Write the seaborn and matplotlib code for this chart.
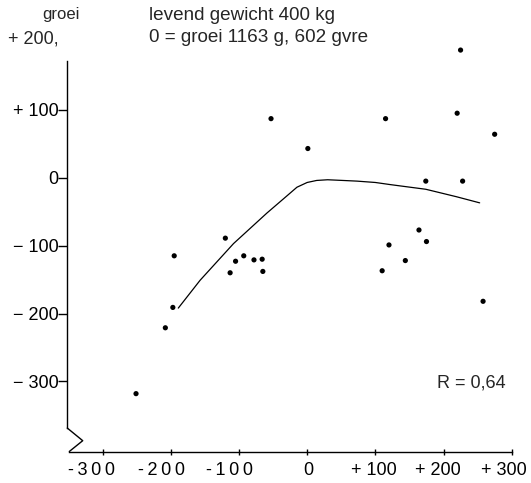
import numpy as np
import pandas as pd
import matplotlib
matplotlib.use("Agg")
import matplotlib.pyplot as plt
import matplotlib.transforms as mtransforms
import seaborn as sns

# ---- data ----
pts_x = [1, 115, 220, 275, 174, 228, 164, 175, 120, 144, 110, 258, 225, -53,
         -120, -195, -93, -105, -78, -66, -113, -65, -197, -208, -251]
pts_y = [43, 87, 95, 64, -5, -5, -77, -94, -99, -122, -137, -182, 188, 87,
         -89, -115, -115, -123, -121, -120, -140, -138, -191, -221, -318]

curve_x = [-189, -157, -108, -59, -30, -15, 0, 14, 30, 52, 73, 100, 121, 136, 174, 219, 253]
curve_y = [-192, -151, -97, -52, -27, -14, -7, -4, -3, -4, -5, -7, -10, -12, -17, -28, -37]

xticks = [-300, -200, -100, 0, 100, 200, 300]
xtick_labels = ["-\u20093\u20090\u20090", "-\u20092\u20090\u20090", "-\u20091\u20090\u20090",
                "0", "+ 100", "+ 200", "+ 300"]
yticks = [100, 0, -100, -200, -300]
ytick_labels = ["+ 100", "0", "\u2212 100", "\u2212 200", "\u2212 300"]

sns.set_style("white")
plt.rcParams["font.family"] = ["Liberation Sans", "DejaVu Sans"]

fig = plt.figure(figsize=(5.31, 4.83), dpi=100)
ax = fig.add_axes([67.3 / 531, (483 - 451.5) / 483, 444.4 / 531, 390.5 / 483])

df_pts = pd.DataFrame({"x": pts_x, "y": pts_y})
df_curve = pd.DataFrame({"x": curve_x, "y": curve_y})

sns.lineplot(data=df_curve, x="x", y="y", estimator=None, sort=False,
             color="black", linewidth=0.9, ax=ax)
sns.scatterplot(data=df_pts, x="x", y="y", color="black", s=14,
                edgecolor="none", ax=ax, clip_on=False, zorder=3)

ax.set_xlim(-351.8, 300)
ax.set_ylim(-403.2, 171.9)
ax.set_xlabel("")
ax.set_ylabel("")

for s in ["top", "right"]:
    ax.spines[s].set_visible(False)
for s in ["left", "bottom"]:
    ax.spines[s].set_color("black")
    ax.spines[s].set_linewidth(1.0)
ax.spines["left"].set_bounds(-368.6, 171.9)
ax.spines["bottom"].set_bounds(-349, 300)

# axis break zigzag
ax.plot([0, 0.0347, 0.0045], [0.060, 0.0277, 0.0], transform=ax.transAxes,
        color="black", linewidth=1.0, clip_on=False)

ax.set_yticks(yticks)
ax.set_yticklabels(ytick_labels)
ax.set_xticks(xticks)
ax.set_xticklabels(xtick_labels)
ax.tick_params(axis="y", direction="out", length=6.5, width=1.0, pad=0,
               labelsize=13, colors="black", left=True)
ax.tick_params(axis="x", direction="inout", length=4.5, width=1.0, pad=5,
               labelsize=13, colors="black", bottom=True)

# shift x tick labels as in the reference
shifts = [-11, -9, -9, 1, -1, -6, -8]
for lab, dx in zip(ax.get_xticklabels(), shifts):
    lab.set_transform(lab.get_transform() +
                      mtransforms.ScaledTranslation(dx / 100, 0, fig.dpi_scale_trans))

fig.text(61 / 531, 1 - 15 / 483, "groei", ha="center", va="center", fontsize=12)
fig.text(149 / 531, 1 - 15 / 483, "levend gewicht 400 kg", ha="left", va="center", fontsize=13.6)
fig.text(149 / 531, 1 - 38 / 483, "0 = groei 1163 g, 602 gvre", ha="left", va="center", fontsize=13.6)
fig.text(8 / 531, 1 - 39 / 483, "+ 200,", ha="left", va="center", fontsize=13)
fig.text(471 / 531, 1 - 383 / 483, "R = 0,64", ha="center", va="center", fontsize=13)

fig.savefig("out.png", dpi=100)
